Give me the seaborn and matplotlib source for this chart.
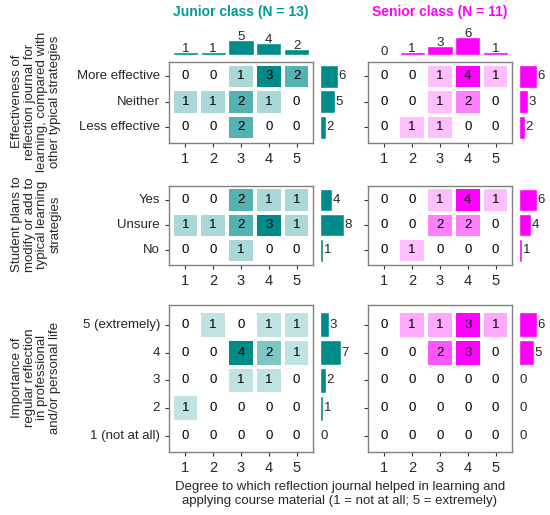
import numpy as np
import pandas as pd
import matplotlib
matplotlib.use("Agg")
import matplotlib.pyplot as plt
import seaborn as sns
from matplotlib.colors import LinearSegmentedColormap

######################################################################
# Data
degree_ticks = ["1", "2", "3", "4", "5"]

effect_rows = ["More effective", "Neither", "Less effective"]
effect_junior = [[0, 0, 1, 3, 2],
                 [1, 1, 2, 1, 0],
                 [0, 0, 2, 0, 0]]
effect_senior = [[0, 0, 1, 4, 1],
                 [0, 0, 1, 2, 0],
                 [0, 1, 1, 0, 0]]

plans_rows = ["Yes", "Unsure", "No"]
plans_junior = [[0, 0, 2, 1, 1],
                [1, 1, 2, 3, 1],
                [0, 0, 1, 0, 0]]
plans_senior = [[0, 0, 1, 4, 1],
                [0, 0, 2, 2, 0],
                [0, 1, 0, 0, 0]]

importance_rows = ["5 (extremely)", "4", "3", "2", "1 (not at all)"]
importance_junior = [[0, 1, 0, 1, 1],
                     [0, 0, 4, 2, 1],
                     [0, 0, 1, 1, 0],
                     [1, 0, 0, 0, 0],
                     [0, 0, 0, 0, 0]]
importance_senior = [[0, 1, 1, 3, 1],
                     [0, 0, 2, 3, 0],
                     [0, 0, 0, 0, 0],
                     [0, 0, 0, 0, 0],
                     [0, 0, 0, 0, 0]]

group_labels = ["Effectiveness of\nreflection journal for\nlearning, compared with\nother typical strategies",
                "Student plans to\nmodify or add to\ntypical learning\nstrategies",
                "Importance of\nregular reflection\nin professional\nand/or personal life"]
class_titles = ["Junior class (N = 13)", "Senior class (N = 11)"]
xlabel = ("Degree to which reflection journal helped in learning and\n"
          "applying course material (1 = not at all; 5 = extremely)")

#######################################################################
# Style
sns.set_style("white")
plt.rcParams['font.family'] = ['Liberation Sans', 'DejaVu Sans']
plt.rcParams['font.size'] = 9.5

teal = "#008b8b"
magenta = "#ff00ff"
colors = [teal, magenta]
title_colors = ["#009999", "#ff00ff"]
frame = "#808080"

W, H = 550, 515
fig = plt.figure(figsize=(W / 100, H / 100), dpi=100)


def px_axes(x0, y0, x1, y1):
    return fig.add_axes([x0 / W, 1 - y1 / H, (x1 - x0) / W, (y1 - y0) / H])


rows = [(effect_rows, effect_junior, effect_senior),
        (plans_rows, plans_junior, plans_senior),
        (importance_rows, importance_junior, importance_senior)]
row_y = [(62, 143), (186, 265), (305, 452)]
row_ylim = [(3.11, -0.065), (3.08, -0.05), (5.08, -0.22)]
col_x = [(169, 313), (368, 512)]
bar_x = [(320, 362), (519, 550)]
xlim = (-0.09, 5.09)
px_per_unit = 3.0

for r, (cats, jun, sen) in enumerate(rows):
    y0, y1 = row_y[r]
    for c, mat in enumerate([jun, sen]):
        df = pd.DataFrame(mat, index=cats, columns=degree_ticks)
        cmap = LinearSegmentedColormap.from_list("c%d" % c, ["#ffffff", colors[c]])
        ax = px_axes(col_x[c][0], y0, col_x[c][1], y1)
        sns.heatmap(df, ax=ax, cmap=cmap, vmin=0, vmax=df.values.max(),
                    annot=True, fmt="d", cbar=False, linewidths=2.7,
                    linecolor="white",
                    annot_kws=dict(color="black", fontsize=9.5))
        ax.set_xlim(*xlim)
        ax.set_ylim(*row_ylim[r])
        for s in ax.spines.values():
            s.set_visible(True)
            s.set_color(frame)
            s.set_linewidth(1)
        ax.tick_params(axis="both", length=3, width=0.8, color="#333333",
                       bottom=True, left=True)
        ax.tick_params(axis="x", labelsize=10.5)
        ax.tick_params(axis="y", labelsize=9.5)
        ax.set_xticklabels(degree_ticks, rotation=0)
        if c == 0:
            ax.set_yticklabels(cats, rotation=0)
        else:
            ax.set_yticklabels([])
        ax.set_xlabel("")
        ax.set_ylabel("")

        # right marginal bars: row totals
        totals = df.sum(axis=1).values
        bx0, bx1 = bar_x[c]
        axr = px_axes(bx0, y0, bx1, y1)
        hb = axr.barh(np.arange(len(cats)) + 0.5, totals, height=0.9,
                      color=colors[c])
        axr.bar_label(hb, padding=0.5, fontsize=9.5)
        axr.set_ylim(*row_ylim[r])
        axr.set_xlim(0, (bx1 - bx0) / px_per_unit)
        axr.axis("off")

        # top marginal bars: column totals (first row only)
        if r == 0:
            col_tot = df.sum(axis=0).values
            axt = px_axes(col_x[c][0], 15, col_x[c][1], 55)
            vb = axt.bar(np.arange(5) + 0.5, col_tot, width=0.9, color=colors[c])
            axt.bar_label(vb, padding=-2, fontsize=9.5)
            axt.set_xlim(*xlim)
            axt.set_ylim(0, 40 / px_per_unit)
            axt.axis("off")

    fig.text(36 / W, 1 - ((y0 + y1) / 2 - 1) / H, group_labels[r], rotation=90,
             ha="center", va="center", fontsize=9.5, linespacing=1.1,
             multialignment="center")

for c in range(2):
    fig.text(((col_x[c][0] + col_x[c][1]) / 2) / W, 1 - 12 / H, class_titles[c],
             ha="center", va="center", fontsize=10, fontweight="bold",
             color=title_colors[c])

fig.text(340 / W, 1 - 494 / H, xlabel, ha="center", va="center",
         fontsize=9.5, linespacing=1.25)

fig.savefig("out.png", dpi=100)
